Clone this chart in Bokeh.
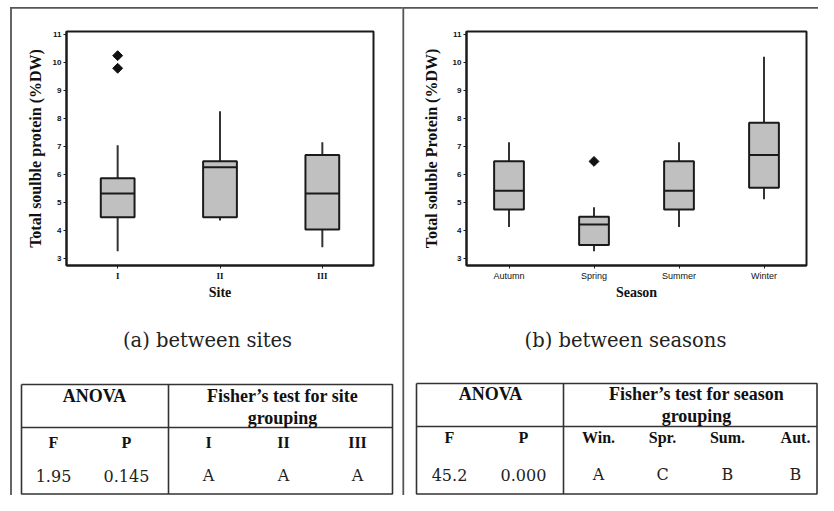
from bokeh.plotting import figure
from bokeh.models import Range1d, ColumnDataSource, FixedTicker, LinearScale
from bokeh.layouts import row
from bokeh.core.properties import value
from bokeh.embed import file_html
from bokeh.resources import INLINE

# ---------------- data ----------------
sites = ["I", "II", "III"]
site_low = [3.27, 4.36, 3.41]
site_q1 = [4.48, 4.48, 4.04]
site_med = [5.33, 6.26, 5.33]
site_q3 = [5.87, 6.48, 6.70]
site_high = [7.05, 8.26, 7.15]
site_out_cat = ["I", "I"]
site_out_val = [10.24, 9.79]

seasons = ["Autumn", "Spring", "Summer", "Winter"]
season_low = [4.13, 3.27, 4.13, 5.12]
season_q1 = [4.76, 3.49, 4.76, 5.53]
season_med = [5.42, 4.22, 5.42, 6.70]
season_q3 = [6.48, 4.50, 6.48, 7.85]
season_high = [7.15, 4.84, 7.15, 10.20]
season_out_cat = ["Spring"]
season_out_val = [6.47]

y_ticks = [3, 4, 5, 6, 7, 8, 9, 10, 11]

anova_heads = ["F", "P"]
site_anova = ["1.95", "0.145"]
site_groups = ["I", "II", "III"]
site_letters = ["A", "A", "A"]
season_anova = ["45.2", "0.000"]
season_groups = ["Win.", "Spr.", "Sum.", "Aut."]
season_letters = ["A", "C", "B", "B"]

DARK = "#1a1a1a"
LINE = "#555555"
SERIF_B = value("Liberation Serif")


def half(cats, low, q1, med, q3, high, out_c, out_v, width, mb_left, mb_right,
         frame_px, ylabel, xlabel, box_w, xfont, xsize, xstyle, ystand):
    n = len(cats)
    pos = {c: i + 0.5 for i, c in enumerate(cats)}
    xs = [pos[c] for c in cats]
    p = figure(x_range=Range1d(0, n), y_range=Range1d(2.76, 11.1),
               width=width, height=495, output_backend="svg", toolbar_location=None,
               min_border_left=mb_left, min_border_right=mb_right,
               min_border_top=31, min_border_bottom=230)
    # pixel coordinate system for decorations (caption, table, frame lines)
    p.extra_x_ranges = {"px": Range1d(frame_px[0], frame_px[1])}
    p.extra_x_scales = {"px": LinearScale()}
    p.extra_y_ranges = {"py": Range1d(265, 31)}
    p.extra_y_scales = {"py": LinearScale()}
    p.xgrid.visible = False
    p.ygrid.visible = False
    p.outline_line_color = DARK
    p.outline_line_width = 2
    p.background_fill_color = "white"
    p.border_fill_color = "white"

    p.yaxis.ticker = FixedTicker(ticks=y_ticks)
    p.xaxis.ticker = FixedTicker(ticks=xs)
    p.xaxis.major_label_overrides = {x: c for x, c in zip(xs, cats)}
    p.xaxis.minor_tick_line_color = None
    p.yaxis.minor_tick_line_color = None
    for ax in (p.xaxis[0], p.yaxis[0]):
        ax.major_tick_in = 0
        ax.major_tick_out = 3
        ax.major_tick_line_color = DARK
        ax.axis_line_color = DARK
        ax.axis_line_width = 2
        ax.major_label_standoff = 2
        ax.axis_label_text_font = "Liberation Serif"
        ax.axis_label_text_font_style = "bold"
        ax.axis_label_text_color = "#111"
        ax.major_label_text_color = "#111"
    p.yaxis.axis_label_text_font_size = "16px"
    p.xaxis.axis_label_text_font_size = "14px"
    p.yaxis.major_label_text_font = "Liberation Sans"
    p.yaxis.major_label_text_font_style = "bold"
    p.yaxis.major_label_text_font_size = "8px"
    p.yaxis.axis_label = ylabel
    p.yaxis.axis_label_standoff = ystand
    p.xaxis.axis_label = xlabel
    p.xaxis.axis_label_standoff = 1
    p.xaxis.major_label_text_font = xfont
    p.xaxis.major_label_text_font_size = xsize
    p.xaxis.major_label_text_font_style = xstyle

    src = ColumnDataSource(dict(x=xs, x0=[x - box_w / 2 for x in xs],
                                x1=[x + box_w / 2 for x in xs],
                                low=low, q1=q1, med=med, q3=q3, high=high))
    p.segment(x0="x", y0="q3", x1="x", y1="high", line_color="#333", line_width=2, source=src)
    p.segment(x0="x", y0="q1", x1="x", y1="low", line_color="#333", line_width=2, source=src)
    p.vbar(x="x", width=box_w, top="q3", bottom="q1", fill_color="#C0C0C0",
           line_color=DARK, line_width=2, source=src)
    p.segment(x0="x0", y0="med", x1="x1", y1="med", line_color=DARK, line_width=2,
              source=src)
    p.scatter(x=[pos[c] for c in out_c], y=out_v, marker="square", angle=0.785398,
              size=7, fill_color="#111", line_color="#111")
    return p


def deco_lines(p, xs, ys, color, width):
    p.multi_line(xs=xs, ys=ys, line_color=color, line_width=width,
                 x_range_name="px", y_range_name="py", level="annotation")


def deco_text(p, xs, ys, texts, font, size, style="normal", color="#111"):
    p.text(x=xs, y=ys, text=texts, text_font=font, text_font_size=size,
           text_font_style=style, text_align="center", text_baseline="middle",
           text_color=color, x_range_name="px", y_range_name="py", level="annotation")


def table(p, left, right, top, bottom, hline, vline, caption, cap_x, anova_x,
          fisher_title, fisher_x, head1_y, head2_y, cols_x, heads, row_y, vals, val_y):
    deco_text(p, [cap_x], [340], [caption], value("DejaVu Serif"), "19.5px", color="#222")
    deco_lines(p, [[left, right, right, left, left], [left, right], [vline, vline]],
               [[top, top, bottom, bottom, top], [hline, hline], [top, bottom]],
               "#333", 1.6)
    deco_text(p, [anova_x], [head1_y], ["ANOVA"], SERIF_B, "18px", "bold")
    deco_text(p, [fisher_x, fisher_x], [head1_y, head2_y], fisher_title, SERIF_B,
              "18px", "bold")
    deco_text(p, cols_x, [row_y] * len(cols_x), heads, SERIF_B, "16px", "bold")
    deco_text(p, cols_x, [val_y] * len(cols_x), vals, value("DejaVu Serif"), "16px",
              color="#222")


pa = half(sites, site_low, site_q1, site_med, site_q3, site_high, site_out_cat,
          site_out_val, 402, 66, 29, (66, 373), "Total soulble protein (%DW)", "Site",
          0.33, "Liberation Serif", "9px", "bold", 6)
pb = half(seasons, season_low, season_q1, season_med, season_q3, season_high,
          season_out_cat, season_out_val, 416, 64, 12, (466, 806),
          "Total soluble Protein (%DW)", "Season", 0.35, "Liberation Sans", "9px",
          "normal", 10)

# outer frame: top rule, left rule and middle divider
deco_lines(pa, [[10, 402], [10.5, 10.5]], [[7.3, 7.3], [6.5, 495]], LINE, 1.8)
deco_lines(pb, [[402, 818], [402.8, 402.8]], [[7.3, 7.3], [6.5, 495]], LINE, 1.8)

table(pa, 21, 392, 384, 493.5, 427, 168, "(a) between sites", 207, 94,
      ["Fisher\u2019s test for site", "grouping"], 282, 395, 417,
      [53, 126, 208, 283, 357], anova_heads + site_groups, 442,
      site_anova + site_letters, 475)
table(pb, 416, 816.5, 383, 493.5, 426, 563, "(b) between seasons", 625, 490,
      ["Fisher\u2019s test for season", "grouping"], 696, 393, 415,
      [449, 523, 598, 662, 727, 795], anova_heads + season_groups, 437,
      season_anova + season_letters, 474)

layout = row(pa, pb)

open("out.html", "w").write(file_html(layout, INLINE))
